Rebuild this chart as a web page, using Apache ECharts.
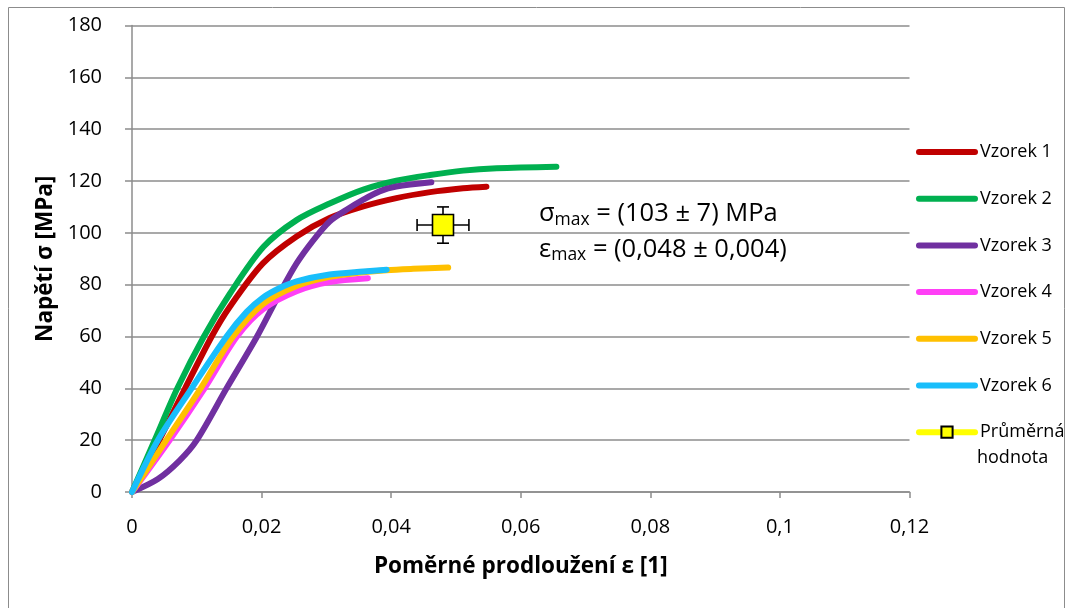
<!DOCTYPE html>
<html>
<head>
<meta charset="utf-8">
<script src="https://cdn.jsdelivr.net/npm/echarts@6/dist/echarts.min.js"></script>
<style>
  html, body { margin: 0; padding: 0; background: #fff; }
  #chart { width: 1067px; height: 608px; }
</style>
</head>
<body>
<div id="chart"></div>
<script>
// Tensile test curves: strain (ε) vs. stress (σ, MPa) for six specimens
const seriesNames = ['Vzorek 1', 'Vzorek 2', 'Vzorek 3', 'Vzorek 4', 'Vzorek 5', 'Vzorek 6'];
const avgName = 'Průměrná hodnota';

const strain1 = [0, 0.0042, 0.0082, 0.0123, 0.0151, 0.0202, 0.0254, 0.0305, 0.0357, 0.0408, 0.046, 0.0511, 0.0547];
const stress1 = [0, 20, 40, 60, 71.5, 88.2, 98.6, 105.7, 110.2, 113.4, 115.7, 117.2, 117.8];

const strain2 = [0, 0.0035, 0.0070, 0.0111, 0.0151, 0.0203, 0.0254, 0.0305, 0.0357, 0.0408, 0.046, 0.0511, 0.0563, 0.0655];
const stress2 = [0, 20, 40, 60, 76.5, 94.6, 104.9, 111.3, 116.7, 120.1, 122.3, 124, 124.9, 125.5];

const strain3 = [0, 0.004, 0.0073, 0.010, 0.0146, 0.0193, 0.0228, 0.0254, 0.028, 0.0305, 0.0331, 0.0357, 0.0382, 0.0408, 0.0462];
const stress3 = [0, 5, 12, 20, 40, 60, 76.7, 88.2, 97.2, 104.4, 108.9, 112.8, 116, 117.9, 119.5];

const strain4 = [0, 0.0058, 0.0112, 0.0162, 0.0202, 0.0254, 0.0305, 0.0364];
const stress4 = [0, 20, 40, 60, 70.5, 77.5, 81, 82.5];

const strain5 = [0, 0.0053, 0.0106, 0.0156, 0.0202, 0.0254, 0.0305, 0.0357, 0.0393, 0.0434, 0.0488];
const stress5 = [0, 20, 40, 60, 72.5, 79.5, 83, 84.8, 85.6, 86.1, 86.6];

const strain6 = [0, 0.004, 0.0092, 0.0146, 0.0177, 0.0202, 0.0228, 0.0254, 0.0305, 0.0357, 0.0393];
const stress6 = [0, 20, 40, 60, 69.5, 75, 78.7, 81.3, 83.9, 85.1, 85.8];

// Mean maximum values with their deviations
const avgStrain = 0.048;
const avgStrainErr = 0.004;
const avgStress = 103;
const avgStressErr = 7;

const xTickLabels = ['0', '0,02', '0,04', '0,06', '0,08', '0,1', '0,12'];
const yTickLabels = ['0', '20', '40', '60', '80', '100', '120', '140', '160', '180'];

const colors = ['#C00000', '#00B050', '#7030A0', '#FF3FF6', '#FFC000', '#19BEFB'];
const strains = [strain1, strain2, strain3, strain4, strain5, strain6];
const stresses = [stress1, stress2, stress3, stress4, stress5, stress6];

const FONT = '"Open Sans", "Noto Sans", sans-serif';
const GRID_COLOR = '#8c8c8c';

function decimalComma(v) { return String(v).replace('.', ','); }

const chart = echarts.init(document.getElementById('chart'), null, { renderer: 'canvas' });

const curveSeries = seriesNames.map((name, i) => ({
  name,
  type: 'line',
  data: strains[i].map((x, k) => [x, stresses[i][k]]),
  symbol: 'none',
  smooth: 0.3,
  color: colors[i],
  lineStyle: { width: 6, color: colors[i], cap: 'round', join: 'round' },
  emphasis: { disabled: true },
  z: 2
}));

const errorSeries = {
  type: 'custom',
  data: [[avgStrain, avgStress, avgStrainErr, avgStressErr]],
  z: 3,
  silent: true,
  renderItem(params, api) {
    const x = api.value(0), y = api.value(1), ex = api.value(2), ey = api.value(3);
    const l = api.coord([x - ex, y]);
    const r = api.coord([x + ex, y]);
    const t = api.coord([x, y + ey]);
    const b = api.coord([x, y - ey]);
    const cap = 6;
    const st = { stroke: '#000', lineWidth: 1.6 };
    const seg = (x1, y1, x2, y2) => ({ type: 'line', shape: { x1, y1, x2, y2 }, style: st });
    return {
      type: 'group',
      children: [
        seg(l[0], l[1], r[0], r[1]),
        seg(l[0], l[1] - cap, l[0], l[1] + cap),
        seg(r[0], r[1] - cap, r[0], r[1] + cap),
        seg(t[0], t[1], b[0], b[1]),
        seg(t[0] - cap, t[1], t[0] + cap, t[1]),
        seg(b[0] - cap, b[1], b[0] + cap, b[1])
      ]
    };
  }
};

const avgSeries = {
  name: avgName,
  type: 'line',
  data: [[avgStrain, avgStress]],
  symbol: 'rect',
  symbolSize: 21,
  showSymbol: true,
  color: '#FFFF00',
  lineStyle: { width: 6, color: '#FFFF00', cap: 'round' },
  itemStyle: { color: '#FFFF00', borderColor: '#000', borderWidth: 1.6 },
  emphasis: { disabled: true },
  z: 4
};

const richMain = { fontSize: 25.5, fontFamily: FONT, fill: '#000', lineHeight: 30 };
const richSub = { fontSize: 17.5, fontFamily: FONT, fill: '#000', lineHeight: 16, verticalAlign: 'bottom' };

const avgLegendWords = avgName.split(' ');

const option = {
  backgroundColor: '#fff',
  animation: false,
  textStyle: { fontFamily: FONT },
  grid: { left: 132, right: 157.5, top: 25.5, bottom: 116, containLabel: false },
  xAxis: {
    type: 'value',
    min: 0,
    max: 0.12,
    interval: 0.02,
    name: 'Poměrné prodloužení ε [1]',
    nameLocation: 'middle',
    nameGap: 63,
    nameTextStyle: { fontFamily: FONT, fontSize: 22.5, fontWeight: 'bold', color: '#000' },
    axisLine: { show: true, onZero: false, lineStyle: { color: GRID_COLOR, width: 1.5 } },
    axisTick: { show: true, inside: false, length: 6, lineStyle: { color: GRID_COLOR, width: 1.5 } },
    axisLabel: {
      fontFamily: FONT, fontSize: 20, color: '#000', margin: 25,
      formatter: (v, i) => xTickLabels[i] !== undefined ? xTickLabels[i] : decimalComma(v)
    },
    splitLine: { show: false }
  },
  yAxis: {
    type: 'value',
    min: 0,
    max: 180,
    interval: 20,
    name: 'Napětí σ [MPa]',
    nameLocation: 'middle',
    nameGap: 75,
    nameTextStyle: { fontFamily: FONT, fontSize: 22.5, fontWeight: 'bold', color: '#000' },
    axisLine: { show: true, onZero: false, lineStyle: { color: GRID_COLOR, width: 1.5 } },
    axisTick: { show: true, inside: false, length: 7, lineStyle: { color: GRID_COLOR, width: 1.5 } },
    axisLabel: {
      fontFamily: FONT, fontSize: 20, color: '#000', margin: 30,
      formatter: (v, i) => yTickLabels[i] !== undefined ? yTickLabels[i] : String(v)
    },
    splitLine: { show: true, lineStyle: { color: GRID_COLOR, width: 1.5 } }
  },
  legend: {
    orient: 'vertical',
    left: 916,
    top: 139,
    padding: 0,
    itemWidth: 56,
    itemHeight: 14,
    itemGap: 20.7,
    selectedMode: false,
    textStyle: { fontFamily: FONT, fontSize: 18, color: '#000', lineHeight: 26 },
    lineStyle: { width: 6, cap: 'round' },
    // the second word of the mean-value entry is set on its own line below
    formatter: name => name === avgName ? avgLegendWords[0] : name,
    data: seriesNames.map(n => ({ name: n, itemStyle: { opacity: 0 } })).concat([{ name: avgName }])
  },
  graphic: [
    {
      type: 'rect',
      silent: true,
      shape: { x: 8.5, y: 7.5, width: 1056, height: 700 },
      style: { fill: 'none', stroke: GRID_COLOR, lineWidth: 1 },
      z: 0
    },
    {
      type: 'text',
      x: 977,
      y: 458,
      silent: true,
      style: {
        text: avgLegendWords.slice(1).join(' '),
        font: '18px ' + FONT,
        fill: '#000',
        verticalAlign: 'middle',
        align: 'left'
      },
      z: 10
    },
    {
      type: 'text',
      x: 539,
      y: 199,
      silent: true,
      style: {
        text: '{m|σ}{s|max}{m| = (' + decimalComma(avgStress) + ' ± ' + decimalComma(avgStressErr) + ') MPa}',
        verticalAlign: 'top',
        align: 'left',
        rich: { m: richMain, s: richSub }
      },
      z: 10
    },
    {
      type: 'text',
      x: 539,
      y: 234.5,
      silent: true,
      style: {
        text: '{m|ε}{s|max}{m| = (' + decimalComma(avgStrain) + ' ± ' + decimalComma(avgStrainErr) + ')}',
        verticalAlign: 'top',
        align: 'left',
        rich: { m: richMain, s: richSub }
      },
      z: 10
    }
  ],
  series: curveSeries.concat([errorSeries, avgSeries])
};

chart.setOption(option);
</script>
</body>
</html>
